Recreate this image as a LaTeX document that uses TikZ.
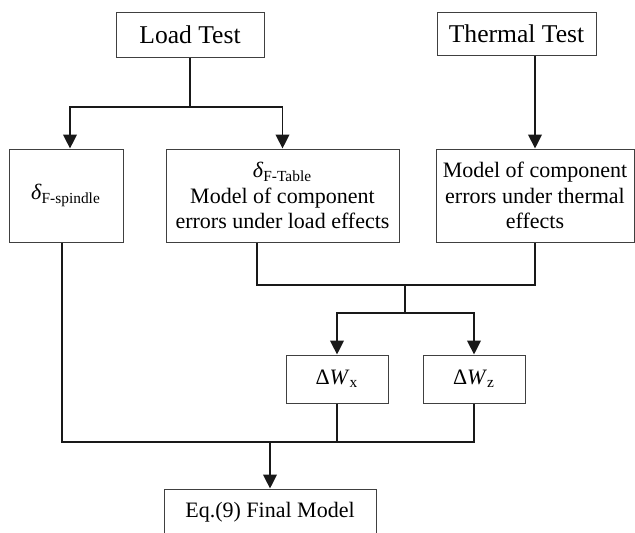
\documentclass[tikz,border=0pt]{standalone}
\usepackage{fontspec}
\setmainfont{Liberation Serif}
\usetikzlibrary{arrows.meta,calc}
\newcommand{\dsub}[1]{\textit{δ}\textsubscript{#1}}
\newcommand{\dW}[1]{Δ\textit{W}\textsubscript{#1}}
\tikzset{
  >={Triangle[length=7pt,width=6.8pt]},
  procbox/.style={draw=black!75,line width=0.5pt,align=center,inner sep=2pt,
    font=\fontsize{11}{12.6}\selectfont},
  testbox/.style={procbox,font=\fontsize{12.8}{15}\selectfont},
  flow/.style={->,line width=0.9pt,black!90},
  link/.style={line width=0.9pt,black!90},
}
\begin{document}
\begin{tikzpicture}[x=0.5pt,y=-0.5pt]
  \useasboundingbox (0,0) rectangle (635,532);
  % tests
  \node[testbox,minimum width=74pt,minimum height=22.5pt] (load) at (190,34.5) {Load Test};
  \node[testbox,minimum width=79.5pt,minimum height=21.5pt] (thermal) at (516.5,33.5) {Thermal Test};
  % component models
  \node[procbox,minimum width=57pt,minimum height=46.5pt] (spindle) at (66,195.5) {\dsub{F-spindle}};
  \node[procbox,minimum width=116.5pt,minimum height=46.5pt] (table) at (282.5,195.5)
    {\dsub{F-Table}\\Model of component\\errors under load effects};
  \node[procbox,minimum width=99pt,minimum height=46.5pt] (thmodel) at (535,195.5)
    {Model of component\\errors under thermal\\effects};
  \node[procbox,minimum width=51pt,minimum height=24pt] (dwx) at (337,379) {\dW{x}};
  \node[procbox,minimum width=51pt,minimum height=24pt] (dwz) at (474,379) {\dW{z}};
  \node[procbox,minimum width=106pt,minimum height=23pt] (final) at (270,512) {Eq.(9) Final Model};
  % junctions
  \coordinate (lsplit) at (load.south |- 0,107);
  \coordinate (tabout) at ($(table.south)+(-25.5,0)$);
  \coordinate (join1) at (405,285);
  \coordinate (split2) at (405,313);
  \coordinate (join2) at (270,442);
  % connectors
  \draw[link] (load) -- (lsplit);
  \draw[flow] (lsplit) -| ($(spindle.north)+(4,0)$);
  \draw[flow] (lsplit) -| (table.north);
  \draw[flow] (thermal.south -| thmodel.north) -- (thmodel.north);
  \draw[link] (tabout) |- (join1) -| (thmodel.south);
  \draw[link] (join1) -- (split2);
  \draw[flow] (split2) -| (dwx.north);
  \draw[flow] (split2) -| (dwz.north);
  \draw[link] ($(spindle.south)+(-4,0)$) |- (dwz.south |- join2) -- (dwz.south);
  \draw[link] (dwx.south) -- (dwx.south |- join2);
  \draw[flow] (join2) -- (final.north);
\end{tikzpicture}
\end{document}
